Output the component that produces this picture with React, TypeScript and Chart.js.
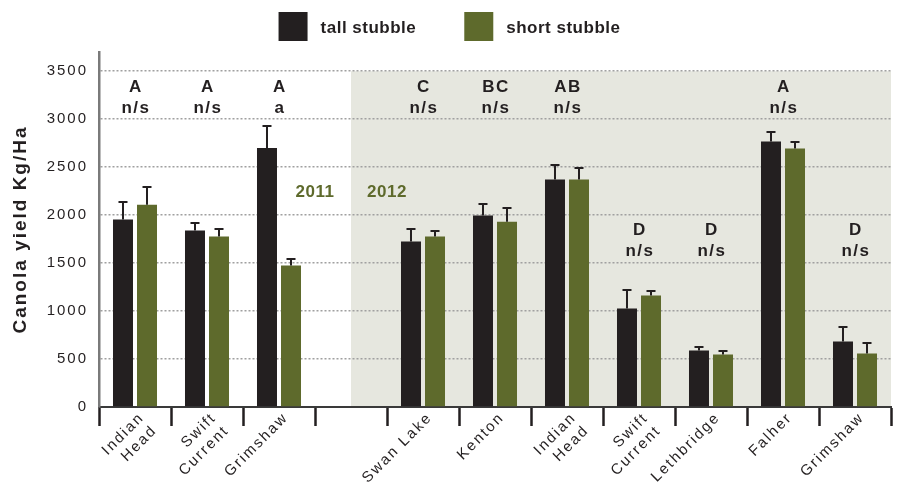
import React, { useEffect, useRef } from 'react';
import { Chart, registerables } from 'chart.js';

Chart.register(...registerables);

const categories: (string | string[])[] = [
  ['Indian', 'Head'], ['Swift', 'Current'], 'Grimshaw', '',
  'Swan Lake', 'Kenton', ['Indian', 'Head'], ['Swift', 'Current'], 'Lethbridge', 'Falher', 'Grimshaw',
];
const seriesNames = ['tall stubble', 'short stubble'];
const tallStubble = [1953, 1839, 2700, null, 1724, 1995, 2370, 1026, 588, 2766, 682];
const tallError = [2144, 1925, 2935, null, 1867, 2123, 2529, 1231, 634, 2873, 842];
const shortStubble = [2109, 1776, 1474, null, 1776, 1932, 2370, 1161, 547, 2693, 557];
const shortError = [2300, 1867, 1554, null, 1846, 2081, 2498, 1217, 592, 2769, 675];
const siteLetters = ['A', 'A', 'A', '', 'C', 'BC', 'AB', 'D', 'D', 'A', 'D'];
const stubbleLetters = ['n/s', 'n/s', 'a', '', 'n/s', 'n/s', 'n/s', 'n/s', 'n/s', 'n/s', 'n/s'];
const letterLevel = [3330, 3330, 3330, null, 3330, 3330, 3330, 1840, 1840, 3330, 1840];
const yearLabels = ['2011', '2012'];
const yearLevel = 2234;
const gapIndex = 3;
const yTicks = [0, 500, 1000, 1500, 2000, 2500, 3000, 3500];
const yMax = 3700;

const TALL = '#231f20';
const SHORT = '#5e6a2c';
const SHADE = '#e6e7df';
const FONT = "'Liberation Sans', Arial, Helvetica, sans-serif";

const shadePlugin = {
  id: 'shade',
  beforeDraw(chart: any) {
    const { ctx, chartArea, scales } = chart;
    ctx.letterSpacing = '2px';
    const x0 = scales.x.getPixelForValue(gapIndex);
    const yTop = scales.y.getPixelForValue(yTicks[yTicks.length - 1]);
    const yBot = scales.y.getPixelForValue(0);
    ctx.save();
    ctx.fillStyle = SHADE;
    ctx.fillRect(x0, yTop, chartArea.right - x0, yBot - yTop);
    ctx.restore();
  },
};

const overlayPlugin = {
  id: 'overlay',
  afterDatasetsDraw(chart: any) {
    const { ctx, scales } = chart;
    const errs = [tallError, shortError];
    ctx.save();
    ctx.strokeStyle = TALL;
    ctx.lineWidth = 2;
    errs.forEach((err, d) => {
      const meta = chart.getDatasetMeta(d);
      meta.data.forEach((bar: any, i: number) => {
        const e = err[i];
        if (e == null) return;
        const yTop = Math.round(scales.y.getPixelForValue(e)) + 1;
        ctx.beginPath();
        ctx.moveTo(bar.x, bar.y);
        ctx.lineTo(bar.x, yTop);
        ctx.moveTo(bar.x - 4.5, yTop);
        ctx.lineTo(bar.x + 4.5, yTop);
        ctx.stroke();
      });
    });
    ctx.restore();
  },
  afterDraw(chart: any) {
    const { ctx, scales } = chart;
    ctx.save();
    // significance letters
    ctx.fillStyle = TALL;
    ctx.font = `bold 17px ${FONT}`;
    ctx.letterSpacing = '1.5px';
    ctx.textAlign = 'center';
    ctx.textBaseline = 'middle';
    categories.forEach((_, i) => {
      const lv = letterLevel[i];
      if (lv == null) return;
      const x = scales.x.getPixelForValue(i) + 1;
      const y = scales.y.getPixelForValue(lv);
      ctx.fillText(siteLetters[i], x, y);
      ctx.fillText(stubbleLetters[i], x, y + 21);
    });
    // year labels
    const half = (scales.x.getPixelForValue(1) - scales.x.getPixelForValue(0)) / 2;
    const gx = scales.x.getPixelForValue(gapIndex);
    const yy = scales.y.getPixelForValue(yearLevel);
    ctx.fillStyle = SHORT;
    ctx.letterSpacing = '0.5px';
    ctx.fillText(yearLabels[0], gx - half, yy);
    ctx.fillText(yearLabels[1], gx + half, yy);
    // legend
    const colors = [TALL, SHORT];
    ctx.font = `bold 17px ${FONT}`;
    ctx.textAlign = 'left';
    const box = 29, gap = 13, between = 48;
    const widths = seriesNames.map((s) => ctx.measureText(s).width);
    const total = widths.reduce((a, w) => a + box + gap + w, 0) + between;
    let x = chart.width / 2 - total / 2;
    seriesNames.forEach((name, k) => {
      ctx.fillStyle = colors[k];
      ctx.fillRect(x, 12, box, box);
      ctx.fillStyle = TALL;
      ctx.fillText(name, x + box + gap, 28);
      x += box + gap + widths[k] + between;
    });
    ctx.restore();
  },
};

export default function App() {
  const ref = useRef<HTMLCanvasElement>(null);
  useEffect(() => {
    if (!ref.current) return;
    const chart = new Chart(ref.current, {
      type: 'bar',
      data: {
        labels: categories as any,
        datasets: [
          { label: seriesNames[0], data: tallStubble as any, backgroundColor: TALL, borderWidth: 0 },
          { label: seriesNames[1], data: shortStubble as any, backgroundColor: SHORT, borderWidth: 0 },
        ],
      },
      options: {
        responsive: false,
        animation: false,
        devicePixelRatio: 1,
        categoryPercentage: 0.667,
        barPercentage: 0.833,
        layout: { padding: { top: 52, right: 8, left: 0, bottom: 0 } },
        plugins: { legend: { display: false }, tooltip: { enabled: false } },
        scales: {
          x: {
            grid: {
              offset: true,
              drawOnChartArea: false,
              drawTicks: true,
              tickLength: 19,
              tickWidth: 2.5,
              tickColor: (c: any) => (c.index === categories.length ? '#7a7a7a' : TALL),
            },
            border: { display: true, color: '#3a3a3a', width: 2 },
            ticks: {
              autoSkip: false,
              maxRotation: 45,
              minRotation: 45,
              padding: -17,
              labelOffset: 7,
              color: TALL,
              font: { family: FONT, size: 15 },
            },
            afterFit: (s: any) => { s.height = 77; },
          },
          y: {
            min: 0,
            max: yMax,
            afterBuildTicks: (s: any) => { s.ticks = yTicks.map((v) => ({ value: v })); },
            ticks: {
              padding: 11,
              color: TALL,
              font: { family: FONT, size: 15 },
              callback: (v: any) => String(v),
            },
            grid: {
              drawTicks: false,
              lineWidth: 1.5,
              color: (c: any) => (c.tick && c.tick.value === 0 ? 'rgba(0,0,0,0)' : '#a0a0a0'),
            },
            border: { display: true, color: '#7a7a7a', width: 2.5, dash: [2, 2] },
            title: {
              display: true,
              text: 'Canola yield Kg/Ha',
              color: TALL,
              font: { family: FONT, size: 19, weight: 'bold' },
              padding: { top: 9, bottom: 0 },
            },
            afterFit: (s: any) => { s.width = 99; },
          },
        },
      },
      plugins: [shadePlugin, overlayPlugin],
    });
    return () => chart.destroy();
  }, []);
  return (
    <div style={{ position: 'fixed', left: 0, top: 0, width: 899, height: 484, background: '#fff' }}>
      <canvas ref={ref} width={899} height={484} style={{ display: 'block' }} />
    </div>
  );
}
